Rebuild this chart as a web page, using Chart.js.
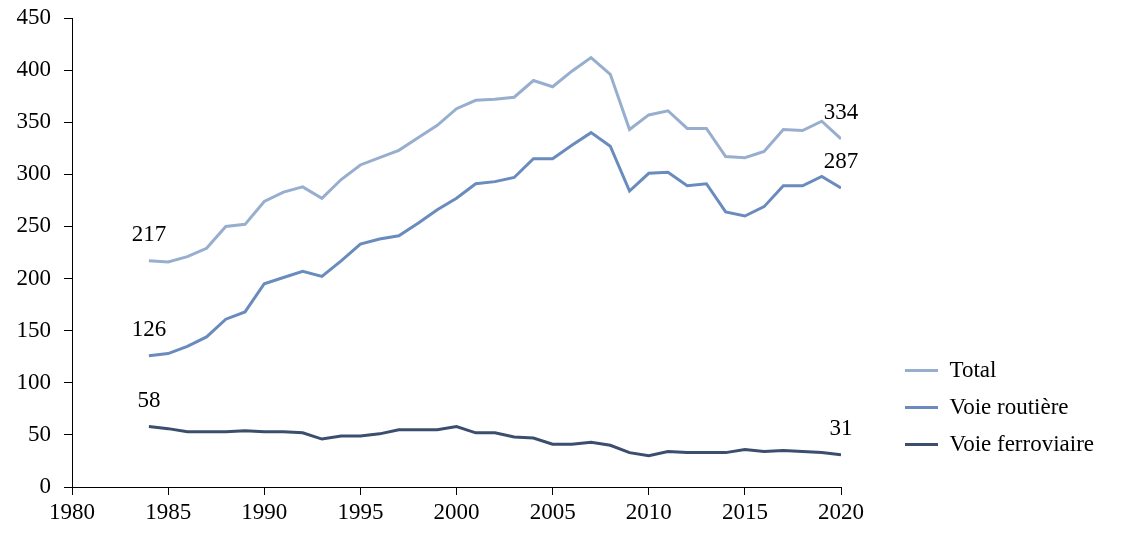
<!DOCTYPE html>
<html>
<head>
<meta charset="utf-8">
<script src="https://cdn.jsdelivr.net/npm/chart.js@4.4.1/dist/chart.umd.min.js"></script>
<style>
  body { margin: 0; background: #fff; }
  #wrap { width: 1123px; height: 537px; position: relative; }
</style>
</head>
<body>
<div id="wrap"><canvas id="chart"></canvas></div>
<script>
var years = [1984, 1985, 1986, 1987, 1988, 1989, 1990, 1991, 1992, 1993,
    1994, 1995, 1996, 1997, 1998, 1999, 2000, 2001, 2002, 2003,
    2004, 2005, 2006, 2007, 2008, 2009, 2010, 2011, 2012, 2013,
    2014, 2015, 2016, 2017, 2018, 2019, 2020];
var total = [217, 216, 221, 229, 250, 252, 274, 283, 288, 277,
    295, 309, 316, 323, 335, 347, 363, 371, 372, 374,
    390, 384, 399, 412, 396, 343, 357, 361, 344, 344,
    317, 316, 322, 343, 342, 351, 334];
var road = [126, 128, 135, 144, 161, 168, 195, 201, 207, 202,
    217, 233, 238, 241, 253, 266, 277, 291, 293, 297,
    315, 315, 328, 340, 327, 284, 301, 302, 289, 291,
    264, 260, 269, 289, 289, 298, 287];
var rail = [58, 56, 53, 53, 53, 54, 53, 53, 52, 46,
    49, 49, 51, 55, 55, 55, 58, 52, 52, 48,
    47, 41, 41, 43, 40, 33, 30, 34, 33, 33,
    33, 36, 34, 35, 34, 33, 31];
var seriesNames = ['Total', 'Voie routière', 'Voie ferroviaire'];
var xTicks = [1980, 1985, 1990, 1995, 2000, 2005, 2010, 2015, 2020];
var yTicks = [0, 50, 100, 150, 200, 250, 300, 350, 400, 450];

var FONT = "'Liberation Serif', 'Times New Roman', serif";
var colors = ['#98aecf', '#6a8bbd', '#3b4e6d'];

function pts(vals) {
    return vals.map((v, i) => ({ x: years[i], y: v }));
}

// first / last value labels
var endLabels = {
    id: 'endLabels',
    afterDatasetsDraw(chart) {
        let ctx = chart.ctx;
        ctx.save();
        ctx.font = '23px ' + FONT;
        ctx.fillStyle = '#000';
        ctx.textAlign = 'center';
        ctx.textBaseline = 'alphabetic';
        chart.data.datasets.forEach((ds, i) => {
            let meta = chart.getDatasetMeta(i);
            let first = meta.data[0];
            let last = meta.data[meta.data.length - 1];
            ctx.fillText(ds.data[0].y, first.x, first.y - 20);
            ctx.fillText(ds.data[ds.data.length - 1].y, last.x, last.y - 20);
        });
        ctx.restore();
    }
};

// move the legend down next to the lower lines
var legendPlace = {
    id: 'legendPlace',
    afterLayout(chart) {
        let lg = chart.legend;
        if (lg) {
            lg.left = 891;
            lg.top = 345;
            lg.right = 1123;
            lg.bottom = 537;
            lg.width = lg.right - lg.left;
            lg.height = lg.bottom - lg.top;
        }
    }
};

var Ctx = document.getElementById('chart');
var Chart1 = new Chart(Ctx, {
    type: 'line',
    data: {
        datasets: [
            { label: seriesNames[0], data: pts(total), borderColor: colors[0], backgroundColor: colors[0], borderWidth: 3 },
            { label: seriesNames[1], data: pts(road), borderColor: colors[1], backgroundColor: colors[1], borderWidth: 3 },
            { label: seriesNames[2], data: pts(rail), borderColor: colors[2], backgroundColor: colors[2], borderWidth: 3 }
        ]
    },
    options: {
        responsive: true,
        maintainAspectRatio: false,
        animation: false,
        layout: { padding: 0 },
        elements: {
            line: { borderWidth: 3, tension: 0 },
            point: { radius: 0 }
        },
        plugins: {
            tooltip: { enabled: false },
            legend: {
                position: 'right',
                align: 'start',
                labels: {
                    usePointStyle: true,
                    pointStyle: 'line',
                    pointStyleWidth: 33,
                    boxHeight: 3,
                    padding: 14,
                    color: '#000',
                    font: { family: FONT, size: 23 }
                }
            }
        },
        scales: {
            x: {
                type: 'linear',
                min: 1980,
                max: 2020,
                afterBuildTicks: (s) => { s.ticks = xTicks.map(v => ({ value: v })); },
                afterFit: (s) => { s.height = 50; s.paddingRight = 282; },
                grid: { display: true, drawOnChartArea: false, drawTicks: true, tickLength: 8, color: '#000' },
                border: { display: true, color: '#000', width: 1 },
                ticks: {
                    color: '#000',
                    padding: 4,
                    maxRotation: 0,
                    autoSkip: false,
                    font: { family: FONT, size: 23 },
                    callback: (v) => String(v)
                }
            },
            y: {
                min: 0,
                max: 450,
                afterBuildTicks: (s) => { s.ticks = yTicks.map(v => ({ value: v })); },
                afterFit: (s) => { s.width = 72; s.paddingTop = 18; },
                grid: { display: true, drawOnChartArea: false, drawTicks: true, tickLength: 8, color: '#000' },
                border: { display: true, color: '#000', width: 1 },
                ticks: {
                    color: '#000',
                    padding: 13,
                    font: { family: FONT, size: 23 },
                    callback: (v) => String(v)
                }
            }
        }
    },
    plugins: [endLabels, legendPlace]
});
</script>
</body>
</html>
